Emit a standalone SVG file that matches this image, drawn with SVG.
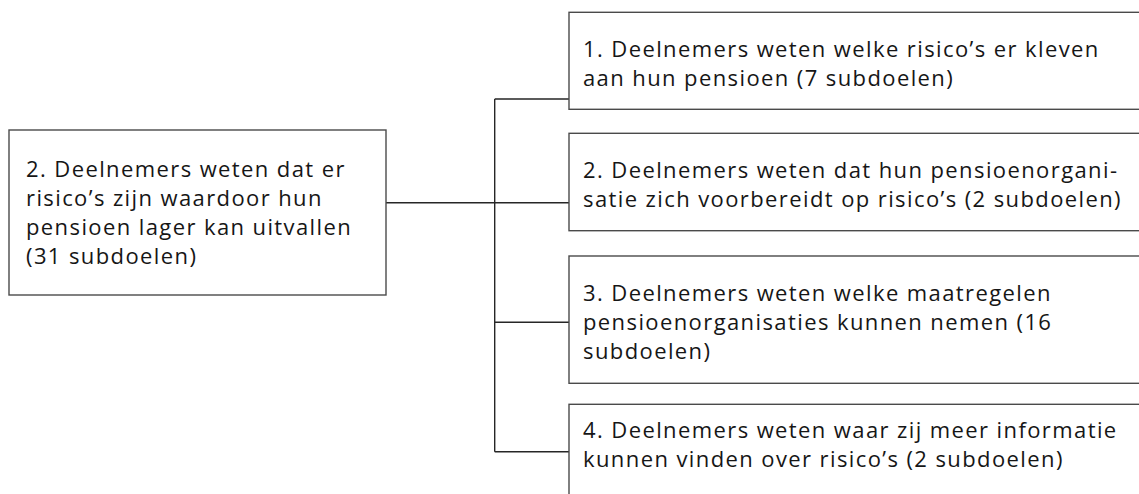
<svg xmlns="http://www.w3.org/2000/svg" width="1139" height="494" viewBox="0 0 1139 494">
<style>
.box{fill:#fff;stroke:#4a4a4a;stroke-width:1.4}
.ln{fill:none;stroke:#262626;stroke-width:1.4}
.t{font-family:"Open Sans","Noto Sans","Liberation Sans",sans-serif;font-size:22px;letter-spacing:1.4px;fill:#161616}
</style>
<rect width="1139" height="494" fill="#fff"/>
<g id="connectors">
<path class="ln" d="M386 202.7H569M494.7 99V451.7M494.7 99H569M494.7 322.3H569M494.7 451.7H569"/>
</g>
<g id="root">
<rect class="box" x="9" y="130" width="377" height="165"/>
<text class="t"><tspan x="26" y="176.7">2. Deelnemers weten dat er</tspan><tspan x="26" y="205.7">risico’s zijn waardoor hun</tspan><tspan x="26" y="234.7">pensioen lager kan uitvallen</tspan><tspan x="26" y="263.7">(31 subdoelen)</tspan></text>
</g>
<g id="n1">
<rect class="box" x="569" y="12.3" width="580" height="97"/>
<text class="t"><tspan x="583" y="56.7">1. Deelnemers weten welke risico’s er kleven</tspan><tspan x="583" y="85.7">aan hun pensioen (7 subdoelen)</tspan></text>
</g>
<g id="n2">
<rect class="box" x="569" y="133.3" width="580" height="97.4"/>
<text class="t"><tspan x="583" y="178.3">2. Deelnemers weten dat hun pensioenorgani-</tspan><tspan x="583" y="207.3">satie zich voorbereidt op risico’s (2 subdoelen)</tspan></text>
</g>
<g id="n3">
<rect class="box" x="569" y="256" width="580" height="127.3"/>
<text class="t"><tspan x="583" y="301.4">3. Deelnemers weten welke maatregelen</tspan><tspan x="583" y="330.4">pensioenorganisaties kunnen nemen (16</tspan><tspan x="583" y="359.4">subdoelen)</tspan></text>
</g>
<g id="n4">
<rect class="box" x="569" y="404.3" width="580" height="100"/>
<text class="t"><tspan x="583" y="438.3">4. Deelnemers weten waar zij meer informatie</tspan><tspan x="583" y="467.3">kunnen vinden over risico’s (2 subdoelen)</tspan></text>
</g>
</svg>
